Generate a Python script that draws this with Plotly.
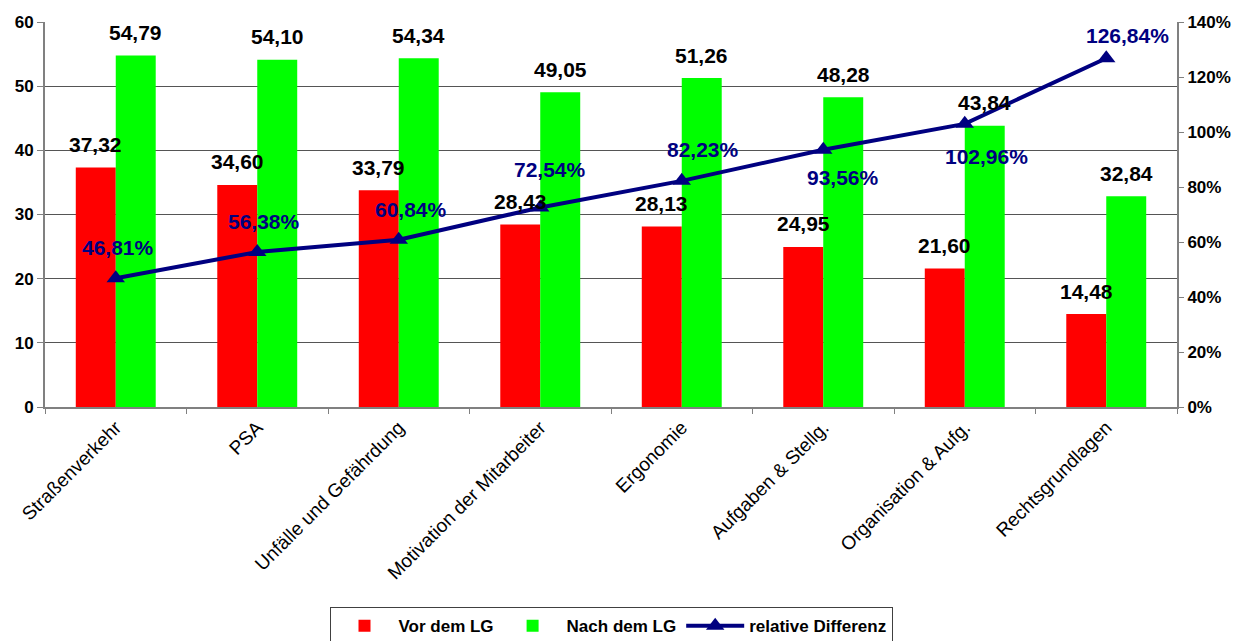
import plotly.graph_objects as go

# Kategorien und Messwerte
categories = [
    "Straßenverkehr",
    "PSA",
    "Unfälle und Gefährdung",
    "Motivation der Mitarbeiter",
    "Ergonomie",
    "Aufgaben & Stellg.",
    "Organisation & Aufg.",
    "Rechtsgrundlagen",
]
vor_lg = [37.32, 34.60, 33.79, 28.43, 28.13, 24.95, 21.60, 14.48]
nach_lg = [54.79, 54.10, 54.34, 49.05, 51.26, 48.28, 43.84, 32.84]
rel_diff = [0.4681, 0.5638, 0.6084, 0.7254, 0.8223, 0.9356, 1.0296, 1.2684]

# Lage der Prozent-Beschriftungen relativ zum Marker (x, y in Pixel)
pct_label_shift = [(2, 31), (7, 30), (12, 30), (10, 38), (21, 31), (20, -28), (22, -33), (21, 23)]

FONT = "Liberation Sans"
RED = "#FF0000"
GREEN = "#00FF00"
NAVY = "#000080"
GRID = "#555555"
AXIS = "#808080"

fig = go.Figure()
fig.add_trace(go.Bar(
    x=categories, y=vor_lg, name="Vor dem LG",
    marker=dict(color=RED, line=dict(width=0)),
))
fig.add_trace(go.Bar(
    x=categories, y=nach_lg, name="Nach dem LG",
    marker=dict(color=GREEN, line=dict(width=0)),
))
fig.add_trace(go.Scatter(
    x=categories, y=rel_diff, name="relative Differenz", yaxis="y2",
    mode="lines+markers",
    line=dict(color=NAVY, width=4),
    marker=dict(symbol="triangle-up", size=16, color=NAVY),
))

annotations = []
bar_font = dict(family=FONT, size=21, color="black")
for cat, v_red, v_green in zip(categories, vor_lg, nach_lg):
    for val, dx in ((v_red, -20), (v_green, 20)):
        annotations.append(dict(
            x=cat, y=val, xref="x", yref="y",
            text="<b>" + f"{val:.2f}".replace(".", ",") + "</b>",
            showarrow=False, xshift=dx, yshift=23, yanchor="middle",
            font=bar_font,
        ))
for cat, val, (dx, dy) in zip(categories, rel_diff, pct_label_shift):
    annotations.append(dict(
        x=cat, y=val, xref="x", yref="y2",
        text="<b>" + f"{val * 100:.2f}".replace(".", ",") + "%</b>",
        showarrow=False, xshift=dx, yshift=dy, yanchor="middle",
        font=dict(family=FONT, size=21, color=NAVY),
    ))

fig.update_layout(
    width=1253, height=641,
    margin=dict(l=45, r=76, t=22, b=234, autoexpand=False),
    paper_bgcolor="white", plot_bgcolor="white",
    font=dict(family=FONT, color="black"),
    separators=",.",
    barmode="group", bargap=0.435, bargroupgap=0,
    showlegend=True,
    legend=dict(
        orientation="h", x=0.5, xanchor="center", y=-0.52, yanchor="top",
        bordercolor="#404040", borderwidth=1,
        font=dict(family=FONT, size=17, color="black", weight="bold"),
        itemwidth=58, tracegroupgap=0,
    ),
    xaxis=dict(
        type="category", tickangle=-45, automargin=False,
        tickfont=dict(family=FONT, size=19, color="black"),
        showline=True, linecolor=AXIS, linewidth=2,
        ticks="outside", ticklen=5, tickcolor=AXIS, tickson="boundaries",
        showgrid=False, zeroline=False,
    ),
    yaxis=dict(
        range=[0, 60], dtick=10, automargin=False,
        tickfont=dict(family=FONT, size=17, color="black", weight="bold"),
        showline=True, linecolor=AXIS, linewidth=2,
        ticks="outside", ticklen=6, tickcolor=AXIS,
        showgrid=True, gridcolor=GRID, gridwidth=1, zeroline=False,
    ),
    yaxis2=dict(
        overlaying="y", side="right", range=[0, 1.4], dtick=0.2, tickformat=".0%",
        automargin=False,
        tickfont=dict(family=FONT, size=17, color="black", weight="bold"),
        showline=True, linecolor=AXIS, linewidth=2,
        ticks="outside", ticklen=5, tickcolor=AXIS,
        showgrid=False, zeroline=False,
    ),
    annotations=annotations,
)

fig.write_html("out.html")
